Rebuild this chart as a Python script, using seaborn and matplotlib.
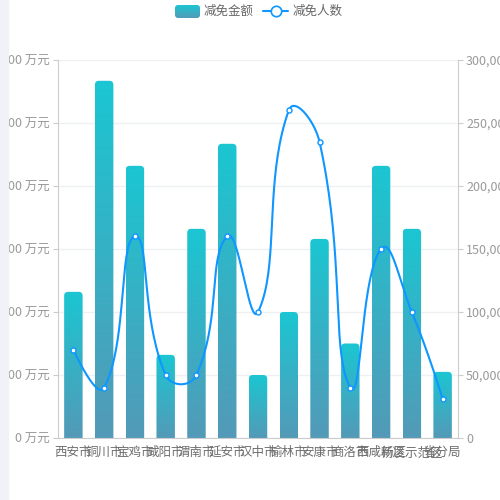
import numpy as np
import pandas as pd
import matplotlib
matplotlib.use('Agg')
import matplotlib.pyplot as plt
import seaborn as sns
from matplotlib.patches import FancyBboxPatch, Rectangle
from matplotlib.lines import Line2D
from matplotlib.colors import LinearSegmentedColormap

# ---------------- data ----------------
categories = ['西安市', '铜川市', '宝鸡市', '咸阳市', '渭南市', '延安市', '汉中市',
              '榆林市', '安康市', '商洛市', '西咸新区', '杨凌示范区', '省分局']
amount = [232, 567, 432, 132, 332, 467, 100, 200, 316, 150, 432, 332, 105]   # 万元
people = [70000, 40000, 160000, 50000, 50000, 160000, 100000,
          260000, 235000, 40000, 150000, 100000, 31000]
left_ticks = [0, 100, 200, 300, 400, 500, 600]
left_labels = [f'{v} 万元' for v in left_ticks]
right_ticks = [0, 50000, 100000, 150000, 200000, 250000, 300000]
right_labels = ['0', '50,000', '100,000', '150,000', '200,000', '250,000', '300,000']
legend_labels = ['减免金额', '减免人数']

# ---------------- style ----------------
sns.set_theme(style='white')
plt.rcParams['font.family'] = ['Noto Sans CJK SC', 'DejaVu Sans']

LINE_C = '#0f96ff'
BAR_BOTTOM = '#539ab7'
BAR_TOP = '#1bc6d2'
AXIS_C = '#cccccc'
LABEL_C = '#999999'
FS = 9

cmap = LinearSegmentedColormap.from_list('barg', [BAR_BOTTOM, BAR_TOP])
grad = np.linspace(0, 1, 256).reshape(-1, 1)

W = H = 500
fig = plt.figure(figsize=(5, 5), dpi=100)
# light side strip that overlays the page edge
fig.add_artist(Rectangle((0, 0), 7.5 / W, 1, transform=fig.transFigure,
                         color='#f1f2f8', zorder=10))

ax = fig.add_axes([58 / W, 62 / H, 400 / W, 378 / H])
ax2 = ax.twinx()
ax.set_zorder(1)
ax2.set_zorder(2)
ax.patch.set_visible(False)
ax2.patch.set_visible(False)

df = pd.DataFrame({'cat': categories, 'amount': amount, 'people': people})
sns.barplot(data=df, x='cat', y='amount', ax=ax, width=0.6, color=BAR_TOP)

XMIN, XMAX = -0.5, len(categories) - 0.5
ax.set_xlim(XMIN, XMAX)
ax.set_ylim(0, 600)
ax2.set_ylim(0, 300000)

# gradient bars with rounded tops
px_x = (XMAX - XMIN) / 400.0
px_y = 600 / 378.0
r_px = 4
asp = px_y / px_x
for p in list(ax.patches):
    x0, w, h = p.get_x(), p.get_width(), p.get_height()
    p.set_visible(False)
    clip = FancyBboxPatch((x0, -r_px * px_y), w, h + r_px * px_y,
                          boxstyle=f'round,pad=0,rounding_size={r_px * px_x}',
                          mutation_aspect=asp, transform=ax.transData)
    im = ax.imshow(grad, extent=[x0, x0 + w, 0, h], origin='lower',
                   aspect='auto', cmap=cmap, zorder=2, interpolation='bilinear')
    im.set_clip_path(clip)
ax.set_xlim(XMIN, XMAX)
ax.set_ylim(0, 600)

# axes styling
ax.set_yticks(left_ticks)
ax.set_yticklabels(left_labels)
ax2.set_yticks(right_ticks)
ax2.set_yticklabels(right_labels)
ax.yaxis.grid(True, color='#eef0f4', lw=1)
ax.set_axisbelow(True)
for s in ['top', 'right']:
    ax.spines[s].set_visible(False)
for s in ['top', 'left', 'bottom']:
    ax2.spines[s].set_visible(False)
for sp in [ax.spines['left'], ax.spines['bottom'], ax2.spines['right']]:
    sp.set_color(AXIS_C)
    sp.set_linewidth(0.8)
ax.tick_params(axis='y', length=3.6, width=0.8, color=AXIS_C, labelcolor=LABEL_C,
               labelsize=FS, pad=2.2, left=True)
ax2.tick_params(axis='y', length=3.6, width=0.8, color=AXIS_C, labelcolor=LABEL_C,
                labelsize=FS, pad=2.2, right=True)
ax.tick_params(axis='x', length=0, labelcolor='#6e6e6e', labelsize=FS, pad=6)
ax.set_xlabel('')
ax.set_ylabel('')
ax2.set_ylabel('')

# smooth line (echarts-like bezier in display space)
xs = np.arange(len(categories), dtype=float)
P = ax2.transData.transform(np.column_stack([xs, np.array(people, float)]))

def smooth_curve(P, smooth=0.5, nseg=40):
    n = len(P)
    out = [P[0]]
    cp0 = P[0].copy()
    t = np.linspace(0, 1, nseg)[1:, None]
    for i in range(1, n):
        p, prev = P[i], P[i - 1]
        if i == n - 1:
            cp1 = p.copy()
            ncp0 = None
        else:
            nxt = P[i + 1]
            v = nxt - prev
            d0 = np.hypot(*(p - prev))
            d1 = np.hypot(*(nxt - p))
            ratio = d1 / (d0 + d1)
            cp1 = p - v * smooth * (1 - ratio)
            ncp0 = p + v * smooth * ratio
        seg = ((1 - t) ** 3) * prev + 3 * ((1 - t) ** 2) * t * cp0 + \
              3 * (1 - t) * t ** 2 * cp1 + t ** 3 * p
        out.extend(seg)
        cp0 = ncp0
    return np.array(out)

curve = ax2.transData.inverted().transform(smooth_curve(P))
ax2.plot(curve[:, 0], curve[:, 1], color=LINE_C, lw=1.5, zorder=4,
         solid_capstyle='round')
sns.scatterplot(x=xs, y=people, ax=ax2, s=13, color='white', edgecolor=LINE_C,
                linewidth=1.0, zorder=5, legend=False)
ax2.set_xlim(XMIN, XMAX)
ax2.set_ylim(0, 300000)

# legend (manual, top centre)
ly = 1 - 11 / H
iax = fig.add_axes([175 / W, 1 - 18 / H, 25 / W, 13 / H])
iax.set_axis_off()
iclip = FancyBboxPatch((0, 0), 1, 1, boxstyle='round,pad=0,rounding_size=0.12',
                       mutation_aspect=25 / 13, transform=iax.transAxes)
iim = iax.imshow(grad, extent=[0, 1, 0, 1], origin='lower', aspect='auto',
                 cmap=cmap, transform=iax.transAxes)
iim.set_clip_path(iclip)
iax.set_xlim(0, 1)
iax.set_ylim(0, 1)
fig.text(204 / W, ly, legend_labels[0], ha='left', va='center', color='#666666',
         fontsize=FS)
fig.add_artist(Line2D([263 / W, 288 / W], [ly, ly], transform=fig.transFigure,
                      color=LINE_C, lw=1.5))
fig.add_artist(Line2D([275.5 / W], [ly], transform=fig.transFigure, marker='o',
                      markersize=7.5, mfc='white', mec=LINE_C, mew=1.2, lw=0))
fig.text(293 / W, ly, legend_labels[1], ha='left', va='center', color='#666666',
         fontsize=FS)

fig.savefig('out.png', dpi=100)
